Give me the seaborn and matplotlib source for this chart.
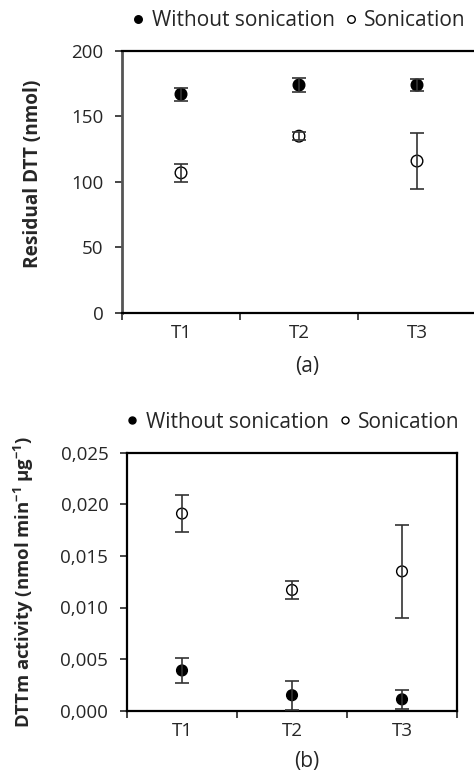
import pandas as pd
import matplotlib
matplotlib.use("Agg")
import matplotlib.pyplot as plt
import seaborn as sns

# ── Data ────────────────────────────────────────────────────
times = ["T1", "T2", "T3"]
groups = ["Without sonication", "Sonication"]

dtt_without = [167, 174, 174]
dtt_without_err = [4.8, 5.3, 4.5]
dtt_sonic = [107, 135, 116]
dtt_sonic_err = [7, 3, 21.5]

act_without = [0.0039, 0.0015, 0.0011]
act_without_err = [0.0012, 0.0014, 0.0009]
act_sonic = [0.0191, 0.0117, 0.0135]
act_sonic_err = [0.0018, 0.0009, 0.0045]

dtt_yticks = [0, 50, 100, 150, 200]
dtt_yticklabels = ["0", "50", "100", "150", "200"]
act_yticks = [0, 0.005, 0.010, 0.015, 0.020, 0.025]
act_yticklabels = ["0,000", "0,005", "0,010", "0,015", "0,020", "0,025"]

sns.set_style("white")
plt.rcParams["font.family"] = ["Open Sans", "DejaVu Sans"]
plt.rcParams["mathtext.default"] = "regular"

W, H = 474, 775
fig = plt.figure(figsize=(W / 100, H / 100), dpi=100)

palette = {"Without sonication": "black", "Sonication": "white"}


def panel(ax, without, without_err, sonic, sonic_err, size):
    df = pd.DataFrame({
        "time": times * 2,
        "value": without + sonic,
        "err": without_err + sonic_err,
        "group": [groups[0]] * 3 + [groups[1]] * 3,
    })
    sns.scatterplot(data=df, x="time", y="value", hue="group", palette=palette,
                    hue_order=groups, edgecolor="black", linewidth=1.0, s=size,
                    ax=ax, zorder=2)
    ax.errorbar(df["time"], df["value"], yerr=df["err"], fmt="none",
                ecolor="#333333", elinewidth=1.2, capsize=4.7, capthick=1.2, zorder=3)
    ax.set_xlim(-0.5, 2.5)
    ax.set_xticks([-0.5, 0.5, 1.5, 2.5], minor=True)
    ax.tick_params(axis="x", which="major", length=0, pad=8, labelsize=13.5)
    ax.tick_params(axis="x", which="minor", length=5, width=1.2, direction="out", bottom=True)
    ax.tick_params(axis="y", length=5, width=1.2, direction="out", left=True,
                   labelsize=13.5, pad=8.5)
    for sp in ax.spines.values():
        sp.set_color("black")
        sp.set_linewidth(1.6)


def legend(ax, x, y):
    sns.move_legend(ax, "center", bbox_to_anchor=(x / W, 1 - y / H),
                    bbox_transform=fig.transFigure, ncol=2, title=None, frameon=False,
                    fontsize=15, handlelength=0.6, handletextpad=0.35,
                    columnspacing=0.45, markerscale=0.65)


# ── Panel (a) ───────────────────────────────────────────────
ax1 = fig.add_axes([122 / W, 1 - 313 / H, (476 - 122) / W, 262 / H])
panel(ax1, dtt_without, dtt_without_err, dtt_sonic, dtt_sonic_err, 70)
ax1.spines["left"].set_color("#555555")
ax1.spines["left"].set_linewidth(2)
ax1.set_ylim(0, 200)
ax1.set_yticks(dtt_yticks)
ax1.set_yticklabels(dtt_yticklabels)
ax1.set_ylabel("Residual DTT (nmol)", fontsize=13.7, fontweight="bold")
ax1.yaxis.set_label_coords((43 - 122) / 354, 0.532)
ax1.set_xlabel("(a)", fontsize=15)
ax1.xaxis.set_label_coords((307 - 122) / 354, (313 - 356) / 262)
legend(ax1, 299, 21)

# ── Panel (b) ───────────────────────────────────────────────
ax2 = fig.add_axes([127 / W, 1 - 710.7 / H, 330 / W, 258 / H])
panel(ax2, act_without, act_without_err, act_sonic, act_sonic_err, 60)
ax2.set_ylim(0, 0.025)
ax2.set_yticks(act_yticks)
ax2.set_yticklabels(act_yticklabels)
ax2.set_ylabel("DTTm activity (nmol min$^{-1}$ µg$^{-1}$)", fontsize=13.3, fontweight="bold")
ax2.yaxis.set_label_coords((36 - 127) / 330, 0.5)
ax2.set_xlabel("(b)", fontsize=15)
ax2.xaxis.set_label_coords((307 - 127) / 330, (710.7 - 751) / 258)
legend(ax2, 293, 422)

fig.savefig("out.png", dpi=100)
